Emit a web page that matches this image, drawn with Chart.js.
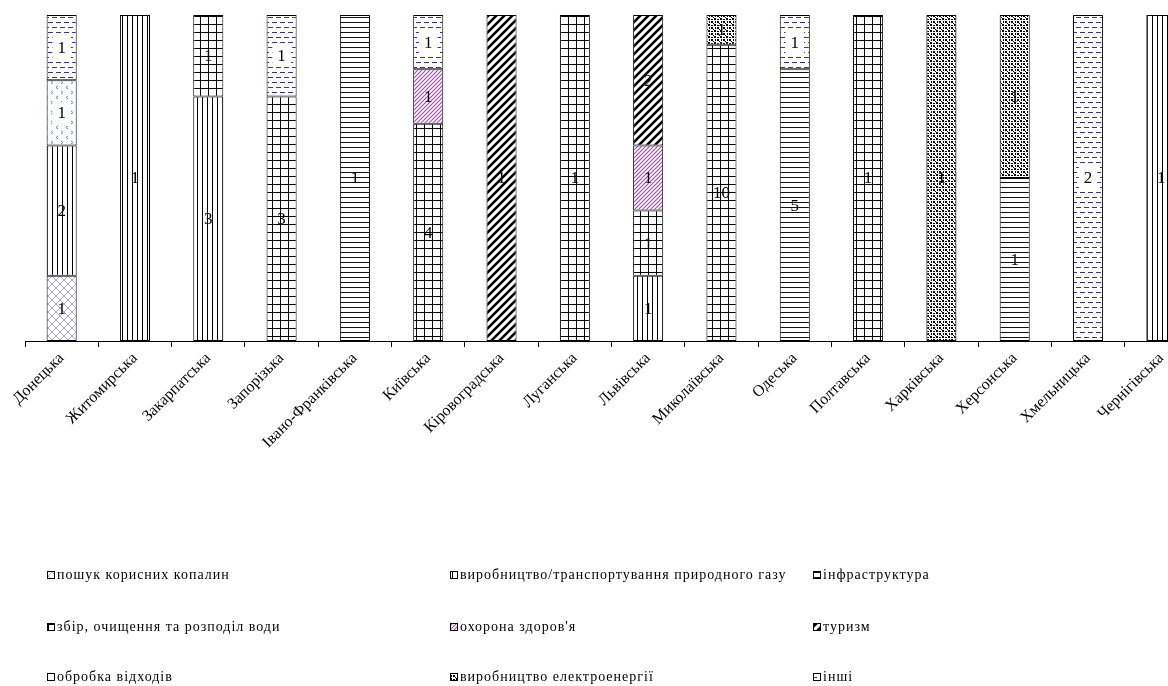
<!DOCTYPE html>
<html lang="uk">
<head>
<meta charset="utf-8">
<title>Проєкти за областями</title>
<script src="https://cdn.jsdelivr.net/npm/chart.js@4.4.1/dist/chart.umd.min.js"></script>
<style>
  html, body { margin: 0; padding: 0; background: #fff; overflow: hidden; }
  #wrap { position: relative; width: 1200px; height: 686px; }
</style>
</head>
<body>
<div id="wrap"><canvas id="projectsChart"></canvas></div>
<script>
// Regions (x axis)
const regions = ['Донецька', 'Житомирська', 'Закарпатська', 'Запорізька', 'Івано-Франківська',
    'Київська', 'Кіровоградська', 'Луганська', 'Львівська', 'Миколаївська', 'Одеська',
    'Полтавська', 'Харківська', 'Херсонська', 'Хмельницька', 'Чернігівська'];

// Sectors, in stacking order (bottom to top)
const seriesNames = ['пошук корисних копалин', 'виробництво/транспортування природного газу',
    'інфраструктура', 'збір, очищення та розподіл води', "охорона здоров'я", 'туризм',
    'обробка відходів', 'виробництво електроенергії', 'інші'];

// Number of projects per region for each sector
const searchMinerals  = [1, 0, 0, 0, 0, 0, 0, 0, 0, 0, 0, 0, 0, 0, 0, 0];
const gasProduction   = [2, 1, 3, 0, 0, 0, 0, 0, 1, 0, 0, 0, 0, 0, 0, 1];
const infrastructure  = [0, 0, 0, 0, 1, 0, 0, 0, 0, 0, 5, 0, 0, 1, 0, 0];
const waterSupply     = [0, 0, 1, 3, 0, 4, 0, 1, 1, 10, 0, 1, 0, 0, 0, 0];
const healthcare      = [0, 0, 0, 0, 0, 1, 0, 0, 1, 0, 0, 0, 0, 0, 0, 0];
const tourism         = [0, 0, 0, 0, 0, 0, 1, 0, 2, 0, 0, 0, 0, 0, 0, 0];
const wasteTreatment  = [1, 0, 0, 0, 0, 0, 0, 0, 0, 0, 0, 0, 0, 0, 0, 0];
const powerGeneration = [0, 0, 0, 0, 0, 0, 0, 0, 0, 1, 0, 0, 1, 1, 0, 0];
const otherProjects   = [1, 0, 0, 1, 0, 1, 0, 0, 0, 0, 1, 0, 0, 0, 2, 0];

const seriesCounts = [searchMinerals, gasProduction, infrastructure, waterSupply, healthcare,
    tourism, wasteTreatment, powerGeneration, otherProjects];

// Build a repeating fill from a small tile
function makePattern(w, h, draw) {
    const c = document.createElement('canvas');
    c.width = w;
    c.height = h;
    const g = c.getContext('2d');
    g.fillStyle = '#fff';
    g.fillRect(0, 0, w, h);
    draw(g);
    return g.createPattern(c, 'repeat');
}

function diagonal(g, size, color, width) {
    g.strokeStyle = color;
    g.lineWidth = width;
    g.beginPath();
    g.moveTo(-size, size * 2); g.lineTo(size * 2, -size);
    g.moveTo(-size, size); g.lineTo(size, -size);
    g.moveTo(0, size * 2); g.lineTo(size * 2, 0);
    g.stroke();
}

const patterns = [
    // crosshatch, light blue
    makePattern(8, 8, g => {
        g.strokeStyle = '#a3a3f5';
        g.lineWidth = 1;
        g.beginPath();
        g.moveTo(-1, -1); g.lineTo(9, 9);
        g.moveTo(-1, 9); g.lineTo(9, -1);
        g.stroke();
    }),
    // vertical lines
    makePattern(5, 4, g => {
        g.fillStyle = '#000';
        g.fillRect(2, 0, 1, 4);
    }),
    // horizontal lines
    makePattern(4, 5, g => {
        g.fillStyle = '#111';
        g.fillRect(0, 2, 4, 1);
    }),
    // square grid
    makePattern(8, 8, g => {
        g.fillStyle = '#000';
        g.fillRect(0, 0, 8, 1);
        g.fillRect(0, 0, 1, 8);
    }),
    // thin purple diagonals
    makePattern(4, 4, g => diagonal(g, 4, '#a445aa', 1.05)),
    // wide black diagonals
    makePattern(8, 8, g => diagonal(g, 8, '#000', 2.6)),
    // small blue chevrons
    makePattern(10, 10, g => {
        g.strokeStyle = '#4d8fe0';
        g.lineWidth = 1;
        g.beginPath();
        g.moveTo(1, 1); g.lineTo(3, 2.5); g.lineTo(1, 4);
        g.moveTo(8, 6); g.lineTo(6, 7.5); g.lineTo(8, 9);
        g.stroke();
    }),
    // black speckles
    makePattern(6, 6, g => {
        g.fillStyle = '#000';
        g.fillRect(0, 0, 2, 2);
        g.fillRect(3, 1, 2, 1);
        g.fillRect(1, 3, 1, 2);
        g.fillRect(3, 3, 2, 2);
        g.fillRect(5, 5, 1, 1);
    }),
    // blue dashes
    makePattern(8, 10, g => {
        g.fillStyle = '#34349e';
        g.fillRect(0, 2, 5, 1);
        g.fillRect(4, 7, 5, 1);
        g.fillRect(-4, 7, 5, 1);
    })
];

// Bars are drawn as each sector's share of the region's total
const totals = regions.map((_, i) => seriesCounts.reduce((s, arr) => s + arr[i], 0));

const datasets = seriesNames.map((name, si) => ({
    label: name,
    counts: seriesCounts[si],
    data: seriesCounts[si].map((n, i) => (n ? n / totals[i] * 100 : null)),
    backgroundColor: patterns[si],
    borderColor: '#000',
    borderWidth: 1,
    borderSkipped: false,
    barPercentage: 0.41,
    categoryPercentage: 1.0,
    labelBox: si === 6 || si === 8
}));

// Counts written in the middle of every segment
const valueLabels = {
    id: 'valueLabels',
    afterDatasetsDraw(chart) {
        const ctx = chart.ctx;
        ctx.save();
        ctx.font = '17px "Liberation Serif", "Times New Roman", serif';
        ctx.textAlign = 'center';
        ctx.textBaseline = 'middle';
        chart.data.datasets.forEach((ds, di) => {
            chart.getDatasetMeta(di).data.forEach((bar, i) => {
                const n = ds.counts[i];
                if (!n) return;
                const y = (bar.y + bar.base) / 2;
                const text = String(n);
                if (ds.labelBox) {
                    const w = ctx.measureText(text).width + 10;
                    ctx.fillStyle = '#fff';
                    ctx.fillRect(bar.x - w / 2, y - 11, w, 22);
                }
                ctx.fillStyle = '#000';
                ctx.fillText(text, bar.x, y + 1);
            });
        });
        ctx.restore();
    }
};

// Three-column legend under the axis labels
const gridLegend = {
    id: 'gridLegend',
    afterDraw(chart) {
        const ctx = chart.ctx;
        const cols = [47, 450, 813];
        const rows = [575, 627, 677];
        ctx.save();
        ctx.font = '14px "Liberation Serif", "Times New Roman", serif';
        ctx.letterSpacing = '1px';
        ctx.textBaseline = 'middle';
        ctx.textAlign = 'left';
        chart.data.datasets.forEach((ds, i) => {
            const x = cols[i % 3];
            const y = rows[Math.floor(i / 3)];
            ctx.fillStyle = ds.backgroundColor;
            ctx.fillRect(x, y - 4, 8, 8);
            ctx.strokeStyle = '#000';
            ctx.lineWidth = 1;
            ctx.strokeRect(x + 0.5, y - 3.5, 7, 7);
            ctx.fillStyle = '#000';
            ctx.fillText(ds.label, x + 10, y);
        });
        ctx.restore();
    }
};

new Chart(document.getElementById('projectsChart'), {
    type: 'bar',
    data: { labels: regions, datasets: datasets },
    options: {
        responsive: true,
        maintainAspectRatio: false,
        animation: false,
        layout: { padding: { left: 25, right: 2, top: 15, bottom: 115 } },
        plugins: {
            legend: { display: false },
            tooltip: { enabled: false }
        },
        scales: {
            x: {
                stacked: true,
                grid: { offset: true, drawOnChartArea: false, color: '#000', tickLength: 6 },
                border: { color: '#000', width: 1 },
                ticks: {
                    color: '#000',
                    font: { family: '"Liberation Serif", "Times New Roman", serif', size: 16 },
                    minRotation: 45,
                    maxRotation: 45,
                    autoSkip: false,
                    padding: 2
                },
                afterFit(scale) { scale.height = 230; }
            },
            y: { stacked: true, display: false, min: 0, max: 100 }
        }
    },
    plugins: [valueLabels, gridLegend]
});
</script>
</body>
</html>
